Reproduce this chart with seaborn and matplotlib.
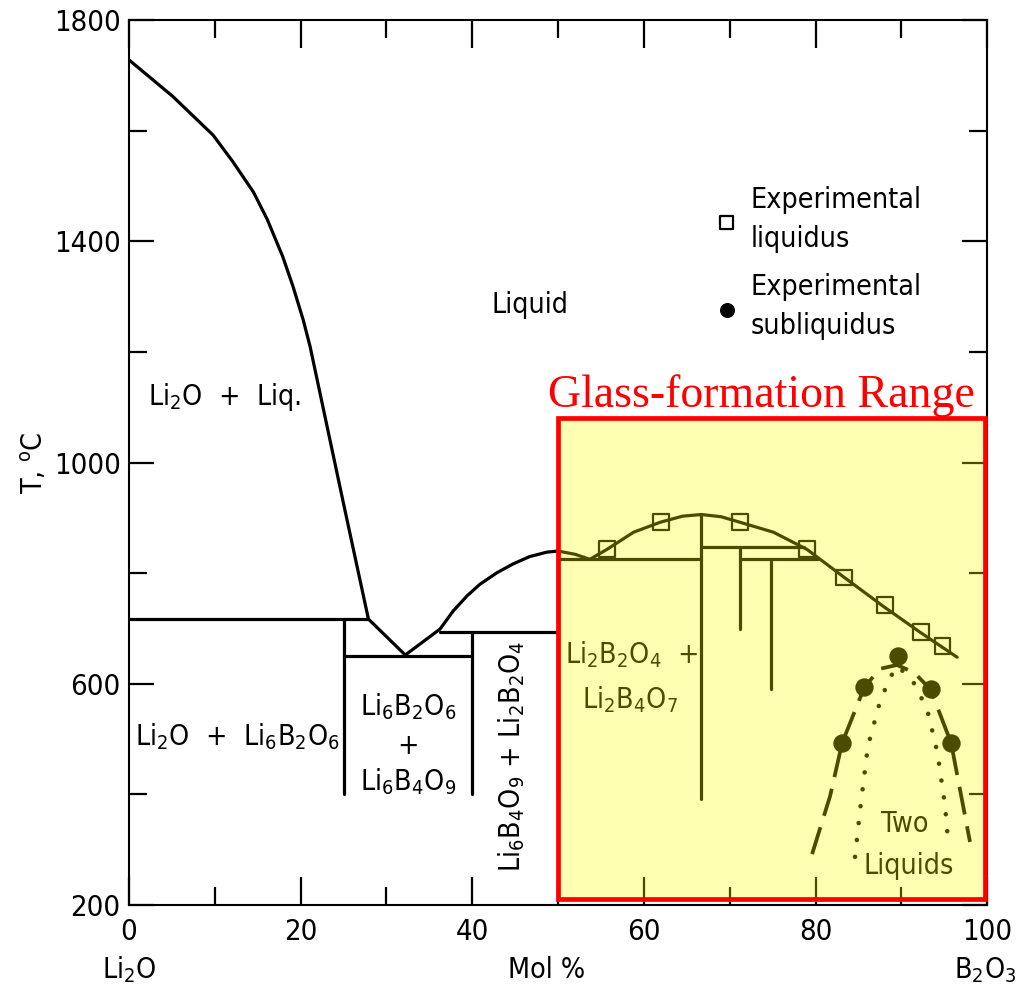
import matplotlib
matplotlib.use("Agg")
import matplotlib.pyplot as plt
import seaborn as sns
from matplotlib import font_manager
from matplotlib.patches import Rectangle
from matplotlib.ticker import FixedLocator

# ---------------- data ----------------
# Li2O liquidus
li2o_liq_x = [0, 5.1, 9.8, 12.1, 14.5, 16.1, 17.9, 19.1, 20.3, 21.1, 24.9, 27.9]
li2o_liq_T = [1728, 1662, 1592, 1544, 1489, 1440, 1373, 1319, 1258, 1210, 933, 717]
# eutectic V and Li6B4O9 / Li2B2O4 liquidus
mid_liq_x = [27.9, 32.2, 36.25, 37.8, 39.4, 40.9, 42.9, 44.8, 46.7, 48.7, 50.0]
mid_liq_T = [717, 652, 699, 732, 759, 780, 801, 817, 830, 838, 840]
# Li2B2O4 -> Li2B4O7 -> B2O3 liquidus
right_liq_x = [50.0, 52.0, 53.7, 55.7, 58.8, 61.9, 64.5, 66.7, 69.0, 71.2, 75.1, 79.0, 83.2, 87.9, 92.2, 96.5]
right_liq_T = [840, 834, 825, 843, 874, 892, 903, 906, 902, 892, 874, 843, 794, 740, 693, 648]
# horizontal invariant lines
hlines_x0 = [0, 25, 36.25, 50.0, 66.7, 71.2]
hlines_x1 = [27.9, 40, 50.0, 66.7, 78.6, 80.3]
hlines_T = [717, 650, 693, 825, 847, 825]
# vertical lines
vlines_x = [25, 40, 50, 66.7, 71.2, 74.8]
vlines_T0 = [717, 693, 840, 906, 847, 825]
vlines_T1 = [400, 400, 400, 392, 699, 590]
# experimental points
exp_liq_x = [55.7, 62.0, 71.2, 79.0, 83.3, 88.1, 92.3, 94.8]
exp_liq_T = [843, 892, 892, 843, 792, 742, 693, 668]
exp_sub_x = [83.1, 85.7, 89.6, 93.4, 95.8]
exp_sub_T = [493, 594, 650, 590, 493]
# immiscibility boundaries
dash_x = [79.6, 81.7, 83.1, 85.7, 87.5, 89.5, 91.5, 93.4, 95.8, 98.0]
dash_T = [292, 397, 493, 594, 627, 634, 620, 590, 493, 314]
dot_x = [84.6, 85.2, 86.1, 87.5, 88.7, 89.6, 91.4, 93.0, 94.2, 95.1, 95.5]
dot_T = [287, 373, 487, 567, 612, 632, 603, 554, 476, 379, 305]
# ticks
x_major = [0, 20, 40, 60, 80, 100]
x_minor = [10, 30, 50, 70, 90]
y_major = [200, 600, 1000, 1400, 1800]
y_minor = [400, 800, 1200, 1600]

# ---------------- style ----------------
sns.set_theme(style="ticks")
fl = font_manager.fontManager.ttflist
names = {f.name for f in fl}
cond = any(f.name == "DejaVu Sans" and f.stretch == "condensed" and f.weight in (400, "normal") for f in fl)
narrow = "Liberation Sans Narrow" in names
if narrow:
    SANS, STRETCH, FS, FT = "Liberation Sans Narrow", "normal", 23, 24
elif cond:
    SANS, STRETCH, FS, FT = "DejaVu Sans", "condensed", 20.5, 21
else:
    SANS, STRETCH, FS, FT = "DejaVu Sans", "normal", 19, 19
plt.rcParams["font.family"] = [SANS, "DejaVu Sans"]
plt.rcParams["font.stretch"] = STRETCH
plt.rcParams["mathtext.fontset"] = "custom"
plt.rcParams["mathtext.rm"] = f"{SANS}:stretch={STRETCH}"
plt.rcParams["mathtext.it"] = f"{SANS}:stretch={STRETCH}"
plt.rcParams["mathtext.bf"] = f"{SANS}:stretch={STRETCH}:bold"
for k in ["text.color", "axes.labelcolor", "xtick.color", "ytick.color", "axes.edgecolor"]:
    plt.rcParams[k] = "black"

fig = plt.figure(figsize=(10.18, 9.88), dpi=100)
ax = fig.add_axes([0.1267, 0.084, 0.843, 0.8957])
ax.set_xlim(0, 100)
ax.set_ylim(200, 1800)

LW = 2.3

def curve(x, y, **kw):
    sns.lineplot(x=x, y=y, sort=False, estimator=None, ax=ax, color="black",
                 lw=kw.pop("lw", LW), legend=False, **kw)

curve(li2o_liq_x, li2o_liq_T)
curve(mid_liq_x, mid_liq_T)
curve(right_liq_x, right_liq_T)
for x0, x1, t in zip(hlines_x0, hlines_x1, hlines_T):
    curve([x0, x1], [t, t])
for x, t0, t1 in zip(vlines_x, vlines_T0, vlines_T1):
    curve([x, x], [t0, t1])
curve(dash_x, dash_T, lw=2.7, linestyle=(0, (7.5, 3.2)))
curve(dot_x, dot_T, lw=3.3, linestyle=(0, (0.01, 3.7)), dash_capstyle="round")

sns.scatterplot(x=exp_liq_x, y=exp_liq_T, marker="s", s=130, facecolor="none",
                edgecolor="black", linewidth=1.6, ax=ax, zorder=4,
                label="Experimental\nliquidus")
sns.scatterplot(x=exp_sub_x, y=exp_sub_T, marker="o", s=150, color="black",
                edgecolor="black", ax=ax, zorder=4, label="Experimental\nsubliquidus")

leg = ax.legend(loc="upper left", bbox_to_anchor=(0.68, 0.813), frameon=False,
                fontsize=FS, handlelength=1.0, handletextpad=0.35, labelspacing=0.72,
                borderaxespad=0, borderpad=0, markerscale=0.8)
for t in leg.get_texts():
    t.set_linespacing(1.5)

# region labels
ax.text(46.7, 1285, "Liquid", fontsize=FS, ha="center", va="center")
ax.text(11.1, 1119, r"Li$_2$O  +  Liq.", fontsize=FS, ha="center", va="center")
ax.text(12.6, 505, r"Li$_2$O  +  Li$_6$B$_2$O$_6$", fontsize=FS, ha="center", va="center")
ax.text(32.5, 558, r"Li$_6$B$_2$O$_6$", fontsize=FS, ha="center", va="center")
ax.text(32.5, 487, "+", fontsize=FS, ha="center", va="center")
ax.text(32.5, 424, r"Li$_6$B$_4$O$_9$", fontsize=FS, ha="center", va="center")
ax.text(44.6, 469, r"Li$_6$B$_4$O$_9$ + Li$_2$B$_2$O$_4$", fontsize=FS, rotation=90,
        ha="center", va="center")
ax.text(50.8, 653, r"Li$_2$B$_2$O$_4$  +", fontsize=FS, ha="left", va="center")
ax.text(58.4, 572, r"Li$_2$B$_4$O$_7$", fontsize=FS, ha="center", va="center")
ax.text(90.4, 346, "Two", fontsize=FS, ha="center", va="center")
ax.text(90.8, 271, "Liquids", fontsize=FS, ha="center", va="center")

# glass-formation range box
ax.add_patch(Rectangle((50.0, 211), 49.8, 870, facecolor="#FFFF00", alpha=0.3,
                       edgecolor="none", zorder=10, clip_on=False))
ax.add_patch(Rectangle((50.0, 211), 49.8, 870, fill=False, edgecolor="#FF0000",
                       lw=3.4, zorder=11, clip_on=False))
ax.text(73.7, 1101, "Glass-formation Range", color="#FF0000", fontsize=33,
        family=["Liberation Serif", "DejaVu Serif"], stretch="normal",
        ha="center", va="baseline", zorder=12)

# axes, ticks
ax.xaxis.set_major_locator(FixedLocator(x_major))
ax.xaxis.set_minor_locator(FixedLocator(x_minor))
ax.yaxis.set_major_locator(FixedLocator(y_major))
ax.yaxis.set_minor_locator(FixedLocator(y_minor))
ax.set_xticklabels([str(v) for v in x_major])
ax.set_yticklabels([str(v) for v in y_major])
ax.tick_params(which="both", direction="in", top=True, right=True, width=1.6,
               color="black", labelcolor="black")
ax.tick_params(axis="x", which="major", length=20, labelsize=FT, pad=9)
ax.tick_params(axis="y", which="major", length=18, labelsize=FT, pad=6)
ax.tick_params(which="minor", length=13)
for sp in ax.spines.values():
    sp.set_linewidth(1.5)
    sp.set_color("black")

ax.set_xlabel("")
ax.set_ylabel(r"T, $^{\rm o}$C", fontsize=FS)
ax.yaxis.set_label_coords(-0.093, 0.5)
ax.text(48.7, -0.073, "Mol %", transform=ax.get_xaxis_transform(), fontsize=FS,
        ha="center", va="center")
ax.text(0, -0.073, r"Li$_2$O", transform=ax.get_xaxis_transform(), fontsize=FS,
        ha="center", va="center")
ax.text(99.8, -0.073, r"B$_2$O$_3$", transform=ax.get_xaxis_transform(), fontsize=FS,
        ha="center", va="center")

fig.savefig("out.png", dpi=100)
